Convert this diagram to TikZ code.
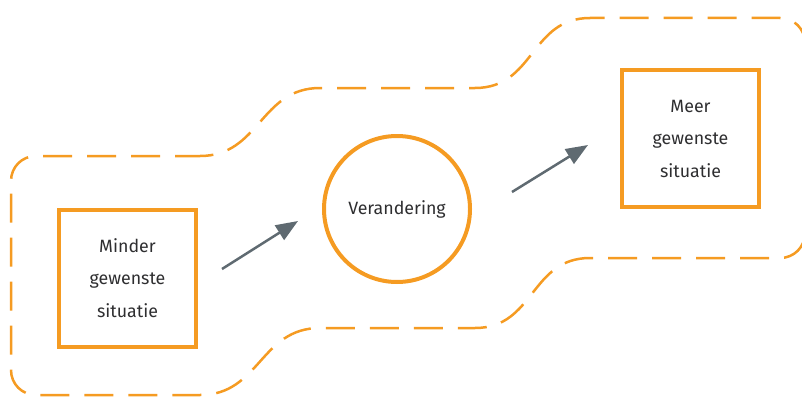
\documentclass[tikz,border=0pt]{standalone}
\usepackage{fontspec}
\setmainfont{Fira Sans}
\usetikzlibrary{arrows.meta}
\definecolor{accent}{HTML}{F59B22}
\definecolor{arrowgray}{HTML}{5F6A71}
\definecolor{txt}{HTML}{2E2E30}
\tikzset{
  statebox/.style={draw=accent, line width=4pt, minimum width=137pt, minimum height=137pt,
    align=center, text=txt, font=\fontsize{17.8}{32.5}\selectfont, inner sep=0pt},
  changecircle/.style={draw=accent, line width=4pt, circle, minimum size=146pt,
    text=txt, font=\fontsize{17.8}{32.5}\selectfont, inner sep=0pt},
  flow/.style={draw=arrowgray, line width=2.5pt, -{Triangle[length=22pt, width=17pt]}},
  region/.style={draw=accent, line width=2.5pt, dash pattern=on 29pt off 15pt, dash phase=4pt}
}
\begin{document}
\begin{tikzpicture}[x=1pt, y=-1pt]
  \useasboundingbox (0,0) rectangle (802,396);

  % band enclosing the transition, stepping up from left to right
  \draw[region]
    (200,156) -- (36,156) .. controls (22,156) and (11,167) .. (11,181)
    -- (11,370) .. controls (11,384) and (22,395) .. (36,395)
    -- (200,395) .. controls (260,395) and (260,328) .. (320,328)
    -- (475,328) .. controls (535,328) and (530,258) .. (590,258)
    -- (780,258) .. controls (794,258) and (805,247) .. (805,233)
    -- (805,43) .. controls (805,29) and (794,18) .. (780,18)
    -- (590,18) .. controls (530,18) and (535,88) .. (475,88)
    -- (320,88) .. controls (260,88) and (260,156) .. (200,156) -- cycle;

  \node[statebox] (before) at (127.5,278) {Minder\\gewenste\\situatie};
  \node[changecircle] (change) at (397,209) {Verandering};
  \node[statebox] (after) at (690.5,138.5) {Meer\\gewenste\\situatie};

  \coordinate (f1s) at (222,269);
  \coordinate (f1e) at (298,221);
  \coordinate (f2s) at (512,192);
  \coordinate (f2e) at (588,145);
  \draw[flow] (f1s) -- (f1e);
  \draw[flow] (f2s) -- (f2e);
\end{tikzpicture}
\end{document}
